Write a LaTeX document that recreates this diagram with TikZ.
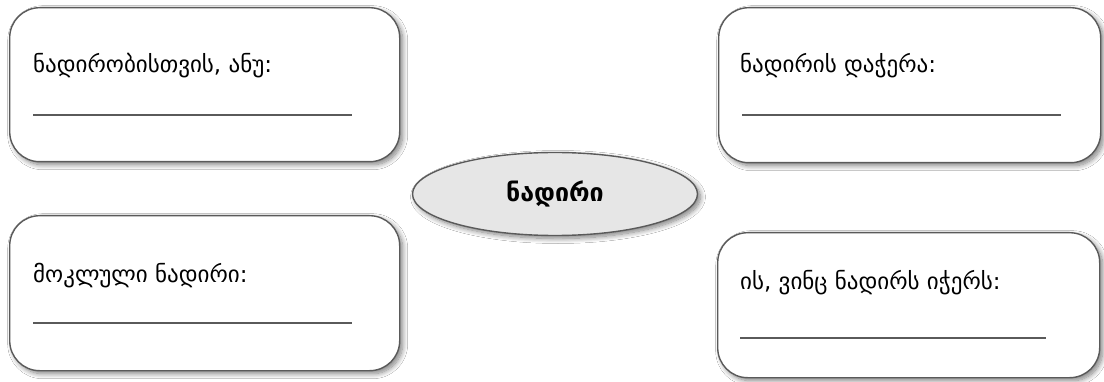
\documentclass[tikz,border=0pt]{standalone}
\usepackage{fontspec}
\setmainfont{DejaVu Sans}
\newfontfamily\geo{DejaVu Sans}
\usetikzlibrary{shapes.geometric,shadows.blur}
\definecolor{edge}{HTML}{5A5A5A}
\definecolor{ellfill}{HTML}{E6E6E6}
\tikzset{
  card/.style={draw=edge,line width=1.4pt,fill=white,rounded corners=30pt,
    blur shadow={shadow xshift=3pt,shadow yshift=-3pt,shadow blur steps=10,shadow blur radius=5pt,shadow opacity=50},
    inner sep=0pt,anchor=north west},
  lbl/.style={anchor=base west,font=\geo\fontsize{23}{26}\selectfont,inner sep=0pt},
  rule/.style={draw=edge,line width=1.4pt},
  hub/.style={ellipse,draw=edge,line width=1.4pt,fill=ellfill,
    blur shadow={shadow xshift=3pt,shadow yshift=-3pt,shadow blur steps=10,shadow blur radius=5pt,shadow opacity=50},
    minimum width=285pt,minimum height=83pt,font=\geo\bfseries\fontsize{25}{30}\selectfont}
}
\begin{document}
\begin{tikzpicture}[x=1pt,y=-1pt]
\useasboundingbox[fill=white] (0,0) rectangle (1104,382);
% cards
\node[card,minimum width=390pt,minimum height=154pt] (tl) at (9,7) {};
\node[card,minimum width=382pt,minimum height=155pt] (tr) at (718,7) {};
\node[card,minimum width=390pt,minimum height=155pt] (bl) at (9,215) {};
\node[card,minimum width=382pt,minimum height=145pt] (br) at (717,232) {};
% labels
\node[lbl] (tlt) at (33,73) {ნადირობისთვის, ანუ:};
\node[lbl] (trt) at (740,73) {ნადირის დაჭერა:};
\node[lbl] (blt) at (33,283) {მოკლული ნადირი:};
\node[lbl] (brt) at (740,290) {ის, ვინც ნადირს იჭერს:};
% write-in lines
\coordinate (tla) at (33,115); \coordinate (tlb) at (352,115);
\coordinate (tra) at (742,115); \coordinate (trb) at (1061,115);
\coordinate (bla) at (33,323); \coordinate (blb) at (352,323);
\coordinate (bra) at (740,338); \coordinate (brb) at (1046,338);
\draw[rule] (tla) -- (tlb);
\draw[rule] (tra) -- (trb);
\draw[rule] (bla) -- (blb);
\draw[rule] (bra) -- (brb);
% hub
\node[hub] (hub) at (555,194) {ნადირი};
\end{tikzpicture}
\end{document}
